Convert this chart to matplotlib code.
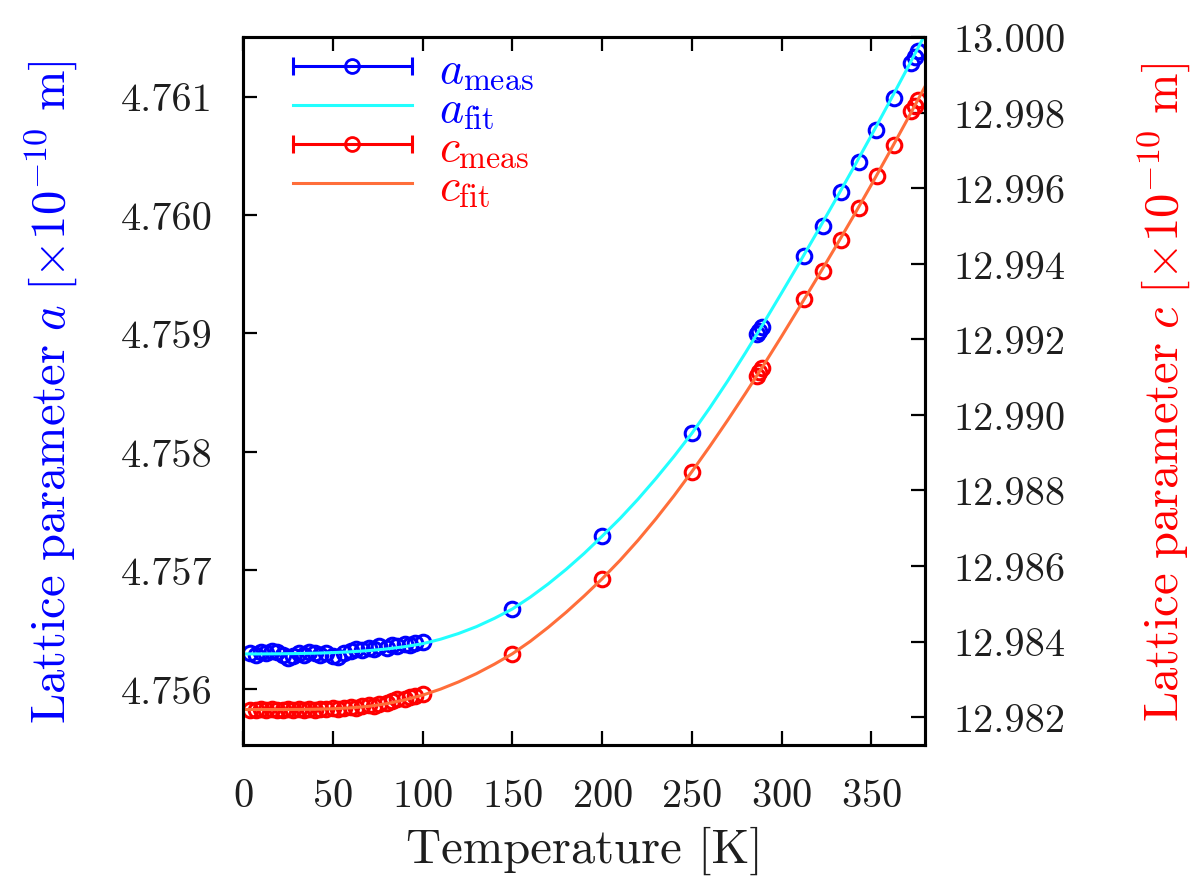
import numpy as np
import matplotlib
matplotlib.use("Agg")
import matplotlib.pyplot as plt
from matplotlib.lines import Line2D
from matplotlib.legend_handler import HandlerBase
from matplotlib.ticker import FormatStrFormatter

# ── data ─────────────────────────────────────────────────────────────────────
# measured points, low temperature block (a and c share the same T)
T_low = [4, 7, 10, 13, 16, 19, 22, 25, 28, 31, 34, 37, 40, 43, 46, 50,
         53, 56, 60, 63, 66, 70, 73, 76, 80, 83, 86, 90, 93, 96, 100]
a_low = [4.75630, 4.75629, 4.75631, 4.75630, 4.75632, 4.75631, 4.75629, 4.75626,
         4.75628, 4.75630, 4.75629, 4.75631, 4.75630, 4.75629, 4.75630, 4.75628,
         4.75627, 4.75630, 4.75632, 4.75634, 4.75633, 4.75635, 4.75634, 4.75636,
         4.75635, 4.75637, 4.75636, 4.75638, 4.75637, 4.75639, 4.75640]
c_low = [12.98220, 12.98218, 12.98221, 12.98219, 12.98222, 12.98220, 12.98218, 12.98221,
         12.98220, 12.98222, 12.98219, 12.98221, 12.98220, 12.98222, 12.98221, 12.98223,
         12.98222, 12.98224, 12.98226, 12.98225, 12.98228, 12.98231, 12.98230, 12.98234,
         12.98238, 12.98243, 12.98248, 12.98247, 12.98252, 12.98256, 12.98261]

# measured points above 100 K
T_a_hi = [150, 200, 250, 286, 287.5, 289, 312.7, 322.9, 333.1, 342.9, 352.5, 362.3, 372, 374, 376]
a_hi = [4.756675, 4.757289, 4.758158, 4.758995, 4.759024, 4.759055, 4.759651, 4.759904,
        4.760191, 4.760444, 4.760717, 4.760985, 4.761280, 4.761330, 4.761380]
T_c_hi = [150, 200, 250, 286, 287.5, 289, 312.3, 323.3, 333.1, 343.3, 352.9, 362.3, 372, 374, 376]
c_hi = [12.983675, 12.985659, 12.988497, 12.99103, 12.99113, 12.99123, 12.993066, 12.993815,
        12.994635, 12.995466, 12.996328, 12.997140, 12.99805, 12.99818, 12.99832]

# fit curves, sampled every 10 K
T_fit = [0, 10, 20, 30, 40, 50, 60, 70, 80, 90, 100, 110, 120, 130, 140, 150, 160, 170, 180, 190,
         200, 210, 220, 230, 240, 250, 260, 270, 280, 290, 300, 310, 320, 330, 340, 350, 360, 370, 380]
a_fit = [4.756296, 4.756296, 4.756297, 4.756299, 4.756302, 4.756307, 4.756314, 4.756324,
         4.756338, 4.756357, 4.756382, 4.756420, 4.756468, 4.756526, 4.756596, 4.756675,
         4.756775, 4.756887, 4.757010, 4.757144, 4.757289, 4.757439, 4.757602, 4.757777,
         4.757962, 4.758158, 4.758373, 4.758601, 4.758841, 4.759089, 4.759343, 4.759600,
         4.759862, 4.760128, 4.760398, 4.760673, 4.760953, 4.761238, 4.761528]
c_fit = [12.982200, 12.982200, 12.982200, 12.982202, 12.982207, 12.982220, 12.982245, 12.982285,
         12.982355, 12.982455, 12.982580, 12.982740, 12.982930, 12.983150, 12.983400, 12.983675,
         12.984005, 12.984375, 12.984775, 12.985205, 12.985659, 12.986149, 12.986679, 12.987249,
         12.987855, 12.988497, 12.989167, 12.989862, 12.990580, 12.991320, 12.992080, 12.992858,
         12.993643, 12.994443, 12.995258, 12.996093, 12.996948, 12.997818, 12.998703]

x_ticks = [0, 50, 100, 150, 200, 250, 300, 350]
a_ticks = [4.756, 4.757, 4.758, 4.759, 4.760, 4.761]
c_ticks = [12.982, 12.984, 12.986, 12.988, 12.990, 12.992, 12.994, 12.996, 12.998, 13.000]

# ── style ────────────────────────────────────────────────────────────────────
plt.rcParams["font.family"] = "cmr10"
plt.rcParams["mathtext.fontset"] = "cm"
plt.rcParams["axes.formatter.use_mathtext"] = True

BLUE = "#0000ff"
CYAN = "#22ffff"
RED = "#ff0000"
ORANGE = "#ff6e3a"
TXT = "#1e1e1e"
FS = 29        # tick labels
FS_LAB = 35    # axis titles


class GnuErrHandler(HandlerBase):
    """gnuplot-like legend key: horizontal bar with end caps and a circle"""

    def create_artists(self, legend, orig_handle, xdescent, ydescent,
                       width, height, fontsize, trans):
        col = orig_handle.get_markeredgecolor()
        y = height / 2 - ydescent
        x0, x1 = -xdescent, width - xdescent
        bar = Line2D([x0, x1], [y, y], color=col, lw=2.2)
        caps = Line2D([x0, x1], [y, y], ls="none", marker="|", ms=13, mew=2.2, color=col)
        dot = Line2D([(x0 + x1) / 2], [y], ls="none", marker="o", ms=10,
                     mfc="none", mec=col, mew=2.0)
        for art in (bar, caps, dot):
            art.set_transform(trans)
        return [bar, caps, dot]


fig = plt.figure(figsize=(11.93, 8.78), dpi=100)
ax = fig.add_axes([0.2037, 0.1503, 0.5719, 0.8064])
ax2 = ax.twinx()

mk = dict(ls="none", marker="o", ms=10.5, mfc="none", mew=2.2)
pa, = ax.plot(T_low + T_a_hi, a_low + a_hi, mec=BLUE, **mk)
fa, = ax.plot(T_fit, a_fit, color=CYAN, lw=2.2)
pc, = ax2.plot(T_low + T_c_hi, c_low + c_hi, mec=RED, **mk)
fc, = ax2.plot(T_fit, c_fit, color=ORANGE, lw=2.2)

ax.set_xlim(0, 380)
ax.set_ylim(4.755527, 4.761502)
ax2.set_ylim(12.98126, 13.000)

ax.set_xticks(x_ticks)
ax.set_yticks(a_ticks)
ax2.set_yticks(c_ticks)
ax.yaxis.set_major_formatter(FormatStrFormatter("%.3f"))
ax2.yaxis.set_major_formatter(FormatStrFormatter("%.3f"))

ax.tick_params(axis="x", which="both", direction="in", top=True, length=10, width=1.6,
               labelsize=FS, pad=24, labelcolor=TXT)
ax.tick_params(axis="y", direction="in", right=False, length=10, width=1.6,
               labelsize=FS, pad=22, labelcolor=TXT)
ax2.tick_params(axis="y", direction="in", length=10, width=1.6,
                labelsize=FS, pad=20, labelcolor=TXT)

for a_ in (ax, ax2):
    for sp in a_.spines.values():
        sp.set_linewidth(2.2)

ax.set_xlabel("Temperature [K]", fontsize=FS_LAB, color=TXT)
ax.xaxis.set_label_coords(0.501, -0.114)
ax.set_ylabel(r"$\mathrm{Lattice\ parameter}\ a\ [\times10^{-10}\ \mathrm{m}]$",
              fontsize=FS_LAB, color=BLUE)
ax.yaxis.set_label_coords(-0.239, 0.5)
ax2.set_ylabel(r"$\mathrm{Lattice\ parameter}\ c\ [\times10^{-10}\ \mathrm{m}]$",
               fontsize=FS_LAB, color=RED)
ax2.yaxis.set_label_coords(1.309, 0.5)

leg = ax2.legend([pa, fa, pc, fc],
                 [r"$a_{\mathrm{meas}}$", r"$a_{\mathrm{fit}}$",
                  r"$c_{\mathrm{meas}}$", r"$c_{\mathrm{fit}}$"],
                 handler_map={pa: GnuErrHandler(), pc: GnuErrHandler()},
                 loc="upper left", bbox_to_anchor=(0.073, 0.982), frameon=False,
                 fontsize=33, handlelength=2.6, handletextpad=0.58,
                 labelspacing=-0.08, borderpad=0, borderaxespad=0)
for txt, col in zip(leg.get_texts(), [BLUE, BLUE, RED, RED]):
    txt.set_color(col)

fig.savefig("out.png", dpi=100)
